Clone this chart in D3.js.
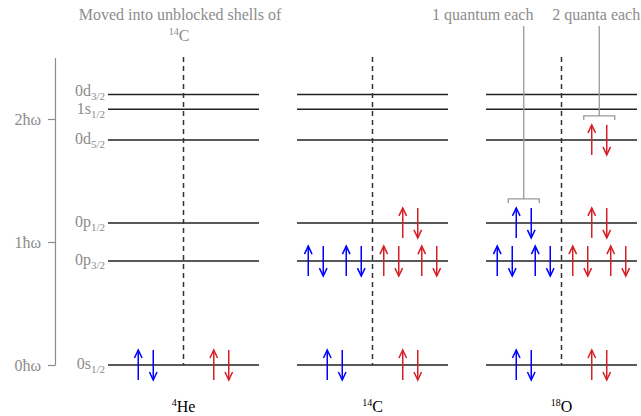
<!DOCTYPE html>
<html>
<head>
<meta charset="utf-8">
<script src="https://cdn.jsdelivr.net/npm/d3@7"></script>
<style>
  body { margin: 0; background: #fff; }
  svg text { font-family: "Liberation Serif", "DejaVu Serif", serif; }
</style>
</head>
<body>
<div id="chart"></div>
<script>
// data
const nuclei = ["He", "C", "O"];
const massNumbers = ["4", "14", "18"];
const levelNames = ["0s", "0p", "0p", "0d", "1s", "0d"];
const levelJ = ["1/2", "3/2", "1/2", "5/2", "1/2", "3/2"];
const levelEnergy = [0, 0.845, 1.155, 1.83, 2.08, 2.2];
// number of nucleon pairs on each level, per nucleus
const protonPairs = [
    [1, 0, 0, 0, 0, 0],
    [1, 2, 0, 0, 0, 0],
    [1, 2, 1, 0, 0, 0]
];
const neutronPairs = [
    [1, 0, 0, 0, 0, 0],
    [1, 2, 1, 0, 0, 0],
    [1, 2, 1, 1, 0, 0]
];
const yTicks = [0, 1, 2];

const width = 641, height = 416;
const gray = "#8c8c8c";
const blue = "#0000ff";
const red = "#d41f26";

const svg = d3.select("#chart").append("svg")
    .attr("width", width)
    .attr("height", height)
    .attr("font-family", "Liberation Serif, serif");

const y = d3.scaleLinear().domain([0, 2.5]).range([365, 57.5]);
const x = d3.scaleBand().domain(nuclei).range([108, 637]).paddingInner(0.201).paddingOuter(0);

// y axis
const yAxis = svg.append("g")
    .attr("transform", "translate(55,0)")
    .call(d3.axisLeft(y).tickValues(yTicks).tickSize(7).tickSizeOuter(0)
        .tickFormat(d => d + "ħω"))
    .attr("font-family", "Liberation Serif, serif");
yAxis.select(".domain").attr("stroke", gray).attr("stroke-width", 1.2);
yAxis.selectAll(".tick line").attr("stroke", gray).attr("stroke-width", 1.2);
yAxis.selectAll(".tick text")
    .attr("fill", gray)
    .attr("font-size", 16)
    .attr("x", -14)
    .attr("dy", "0.35em");

// energy levels
nuclei.forEach((n, ni) => {
    const x0 = x(n), bw = x.bandwidth();
    svg.append("g").selectAll("line")
        .data(levelEnergy)
        .join("line")
        .attr("x1", x0).attr("x2", x0 + bw)
        .attr("y1", d => y(d)).attr("y2", d => y(d))
        .attr("stroke", "#222").attr("stroke-width", 1.5);

    // dashed divider
    svg.append("line")
        .attr("x1", x0 + bw / 2).attr("x2", x0 + bw / 2)
        .attr("y1", 57).attr("y2", y(levelEnergy[0]))
        .attr("stroke", "#333").attr("stroke-width", 1.5)
        .attr("stroke-dasharray", "5,4");

    // nucleus label
    const lab = svg.append("text")
        .attr("x", x0 + bw / 2)
        .attr("y", 412)
        .attr("text-anchor", "middle")
        .attr("font-size", 16)
        .attr("fill", "#000");
    lab.append("tspan").attr("font-size", 10).attr("dy", -6).text(massNumbers[ni]);
    lab.append("tspan").attr("dy", 6).text(n);
});

// level labels
const lvl = svg.append("g").selectAll("text")
    .data(levelEnergy)
    .join("text")
    .attr("x", 105)
    .attr("y", (d, i) => y(d) + 4 + (i == 5 ? -2 : 0) + (i == 4 ? 1 : 0))
    .attr("text-anchor", "end")
    .attr("fill", gray)
    .attr("font-size", 16);
lvl.append("tspan").text((d, i) => levelNames[i]);
lvl.append("tspan").attr("font-size", 11).attr("dy", 4).text((d, i) => levelJ[i]);

// arrows
function arrow(g, cx, cy, up, color) {
    const h = 15, s = up ? -1 : 1;
    g.append("line")
        .attr("x1", cx).attr("x2", cx)
        .attr("y1", cy - s * h).attr("y2", cy + s * h)
        .attr("stroke", color).attr("stroke-width", 1.5);
    g.append("path")
        .attr("d", `M${cx - 3.8},${cy + s * h - s * 8}L${cx},${cy + s * h}L${cx + 3.8},${cy + s * h - s * 8}`)
        .attr("fill", "none").attr("stroke", color).attr("stroke-width", 1.5);
}

const arrows = svg.append("g");
const pairCenters = {};
nuclei.forEach((n, ni) => {
    const x0 = x(n), bw = x.bandwidth();
    [[protonPairs, x0 + bw / 4, blue, "p"], [neutronPairs, x0 + 3 * bw / 4, red, "n"]].forEach(([pairs, hc, color, kind]) => {
        pairs[ni].forEach((k, li) => {
            for (let i = 0; i < k; i++) {
                const pc = hc + (i - (k - 1) / 2) * 38;
                const cy = y(levelEnergy[li]);
                arrow(arrows, pc - 7.5, cy, true, color);
                arrow(arrows, pc + 7.5, cy, false, color);
                pairCenters[n + kind + li] = pc;
            }
        });
    });
});

// annotations
function bracket(pc, lvlIdx, label, tx, anchor) {
    const by = y(levelEnergy[lvlIdx]) - 15 - 9;
    const g = svg.append("g").attr("stroke", "#999").attr("stroke-width", 1.3).attr("fill", "none");
    g.append("path").attr("d", `M${pc - 15.5},${by + 4}V${by}H${pc + 15.5}V${by + 4}`);
    g.append("line").attr("x1", pc).attr("x2", pc).attr("y1", 26).attr("y2", by);
    svg.append("text")
        .attr("x", tx).attr("y", 20)
        .attr("text-anchor", anchor)
        .attr("fill", gray).attr("font-size", 16)
        .text(label);
}
bracket(pairCenters["Op2"], 2, "1 quantum each", pairCenters["Op2"] - 41, "middle");
bracket(pairCenters["On3"], 3, "2 quanta each", pairCenters["On3"] - 3, "middle");

svg.append("text")
    .attr("x", 180).attr("y", 20)
    .attr("text-anchor", "middle")
    .attr("fill", gray).attr("font-size", 16)
    .text("Moved into unblocked shells of");
const c14 = svg.append("text")
    .attr("x", 179).attr("y", 41)
    .attr("text-anchor", "middle")
    .attr("fill", gray).attr("font-size", 16);
c14.append("tspan").attr("font-size", 10).attr("dy", -6).text("14");
c14.append("tspan").attr("dy", 6).text("C");
</script>
</body>
</html>
